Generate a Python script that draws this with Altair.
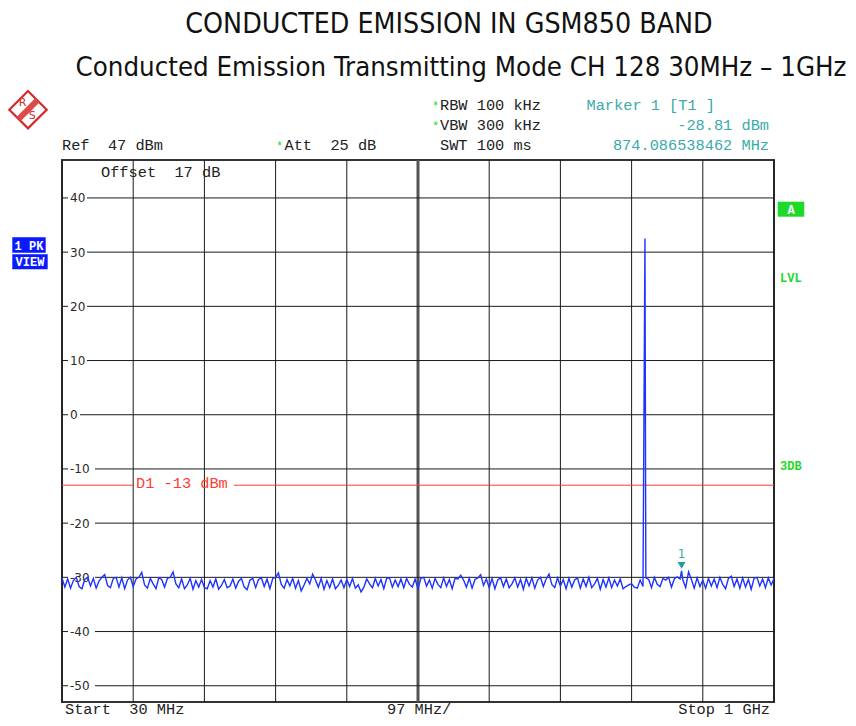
import altair as alt
import pandas as pd

# ---------------- data ----------------
TITLE = "CONDUCTED EMISSION IN GSM850 BAND"
SUBTITLE = "Conducted Emission Transmitting Mode CH 128 30MHz \u2013 1GHz"

start_mhz = 30
stop_mhz = 1000
ref_dbm = 47
bottom_dbm = -53

grid_freqs = [30, 127, 224, 321, 418, 515, 612, 709, 806, 903, 1000]
center_freq = [515]
level_ticks = [40, 30, 20, 10, 0, -10, -20, -30, -40, -50]
level_labels = ["40", "30", "20", "10", "0", "-10", "-20", "-30", "-40", "-50"]

# peak-detected noise floor (dBm), evenly spaced sweep points 30 MHz .. 1 GHz
noise_levels = [
    -30.1, -31.8, -30.3, -32.0, -30.6, -30.0, -31.7, -32.1, -30.4, -30.0,
    -31.6, -30.2, -32.0, -30.7, -30.0, -29.5, -31.5, -31.9, -30.2, -30.0,
    -31.8, -30.1, -32.1, -30.5, -30.0, -31.7, -30.3, -30.0, -29.1, -31.4,
    -32.0, -30.2, -31.2, -32.1, -30.1, -30.4, -31.8, -30.2, -30.0, -29.0,
    -31.2, -31.9, -30.3, -32.1, -31.4, -30.2, -32.2, -30.6, -31.8, -30.4,
    -31.9, -32.1, -30.6, -31.8, -30.3, -32.2, -31.5, -30.4, -31.9, -31.6,
    -30.3, -32.0, -30.7, -30.2, -31.8, -32.3, -30.5, -30.2, -31.9, -30.4,
    -30.1, -31.7, -30.3, -32.1, -30.2, -30.0, -29.2, -31.3, -32.0, -30.4,
    -31.6, -30.2, -32.0, -30.6, -32.5, -31.4, -30.2, -31.2, -29.4, -30.5,
    -31.8, -30.2, -32.2, -30.6, -31.9, -30.3, -32.1, -31.5, -30.5, -31.9,
    -30.4, -31.7, -30.2, -32.0, -31.4, -32.7, -31.8, -30.3, -31.2, -31.9,
    -30.2, -31.6, -30.4, -32.1, -30.2, -30.1, -31.8, -30.5, -31.7, -30.3,
    -31.9, -30.2, -31.3, -31.8, -30.3, -32.1, -30.2, -30.0, -31.6, -30.5,
    -32.0, -30.2, -31.3, -31.9, -30.1, -31.7, -30.4, -32.1, -30.2, -30.3,
    -29.6, -30.5, -31.8, -30.2, -32.0, -30.4, -30.1, -29.5, -31.5, -30.3,
    -31.9, -30.2, -32.1, -30.5, -30.1, -31.7, -30.3, -31.9, -31.2, -30.1,
    -31.8, -30.4, -32.2, -30.2, -31.6, -30.1, -32.0, -30.5, -30.0, -31.7,
    -30.3, -29.4, -31.3, -31.9, -30.1, -31.6, -30.4, -32.1, -30.2, -31.8,
    -30.5, -30.1, -32.0, -30.3, -31.7, -30.0, -31.9, -31.2, -30.2, -32.2,
    -30.4, -31.8, -30.1, -31.9, -30.5, -31.6, -30.3, -32.1, -31.7, -31.4,
    -31.2, -31.8, -32.0, -30.5, -31.7, -30.1, -30.4, -31.9, -30.0, -31.3,
    -31.7, -30.2, -30.5, -30.0, -31.8, -30.3, -29.9, -30.3, -30.5, -31.9,
    -29.0, -30.4, -32.0, -30.1, -31.7, -30.5, -32.0, -30.2, -31.6, -30.3,
    -31.9, -30.0, -31.3, -32.1, -30.2, -29.8, -31.7, -30.3, -32.0, -30.1,
    -31.8, -30.4, -32.2, -30.2, -30.0, -31.6, -30.3, -31.9, -30.1, -31.4,
    -30.2,
]
carrier_freq = [824.2]
carrier_level = [32.5]
marker_freq = [874.086538462]
marker_level = [-28.81]
d1_level = [-13]

NB = "\u00a0"  # keeps the instrument's double spacing in SVG text

# ---------------- tables ----------------
n = len(noise_levels)
sweep_freqs = [start_mhz + i * (stop_mhz - start_mhz) / (n - 1) for i in range(n)]
trace = pd.DataFrame(
    {"f": sweep_freqs + carrier_freq + marker_freq,
     "lvl": noise_levels + carrier_level + marker_level}
).sort_values("f")
grid_v = pd.DataFrame({"gf": grid_freqs})
grid_c = pd.DataFrame({"gf": center_freq})
grid_h = pd.DataFrame({"gl": level_ticks, "label": level_labels})
marker = pd.DataFrame({"f": marker_freq, "lvl": marker_level, "t": ["1"]})
d1 = pd.DataFrame({"lvl": d1_level})

W, H = 712, 542
xs = alt.Scale(domain=[start_mhz, stop_mhz], nice=False, zero=False)
ys = alt.Scale(domain=[bottom_dbm, ref_dbm], nice=False, zero=False)

MONO = "Liberation Mono, Courier New, monospace"
SANS = "DejaVu Sans, sans-serif"
NARROW = "Liberation Sans Narrow, Arial Narrow, DejaVu Sans Condensed, sans-serif"
TEAL = "#3aaaaa"
GREEN = "#1ed82a"
FS = 15.3


def txt(s, x, y, color="#222222", size=FS, font=MONO, align="left",
        weight="normal", baseline="alphabetic"):
    return alt.Chart(pd.DataFrame({"t": [s]})).mark_text(
        align=align, baseline=baseline, font=font, fontSize=size,
        color=color, fontWeight=weight
    ).encode(x=alt.value(x), y=alt.value(y), text="t:N")


def box(x1, x2, y1, y2, color):
    return alt.Chart(pd.DataFrame({"a": [0]})).mark_rect(color=color).encode(
        x=alt.value(x1), x2=alt.value(x2), y=alt.value(y1), y2=alt.value(y2))


vgrid = alt.Chart(grid_v).mark_rule(color="#1a1a1a", strokeWidth=1).encode(
    x=alt.X("gf:Q", scale=xs, axis=None), y=alt.value(0), y2=alt.value(H))
vcenter = alt.Chart(grid_c).mark_rule(color="#555555", strokeWidth=3).encode(
    x=alt.X("gf:Q", scale=xs, axis=None), y=alt.value(0), y2=alt.value(H))
hgrid = alt.Chart(grid_h).mark_rule(color="#1a1a1a", strokeWidth=1).encode(
    y=alt.Y("gl:Q", scale=ys, axis=None), x=alt.value(0), x2=alt.value(W))


def label_gap(expr, x2):
    return alt.Chart(grid_h).transform_filter(expr).mark_rule(
        color="white", strokeWidth=4).encode(
        y=alt.Y("gl:Q", scale=ys, axis=None), x=alt.value(6), x2=alt.value(x2))


gaps = [
    label_gap("length(datum.label) == 1", 18),
    label_gap("length(datum.label) == 2", 25),
    label_gap("length(datum.label) == 3", 33),
]
ylabels = alt.Chart(grid_h).mark_text(
    align="left", baseline="middle", font=SANS, fontSize=12, color="#2a2a2a", dy=0.5
).encode(y=alt.Y("gl:Q", scale=ys, axis=None), x=alt.value(8), text="label:N")

d1_left = alt.Chart(d1).mark_rule(color="#ff3b30", strokeWidth=1).encode(
    y=alt.Y("lvl:Q", scale=ys, axis=None), x=alt.value(0), x2=alt.value(71))
d1_right = alt.Chart(d1).mark_rule(color="#ff3b30", strokeWidth=1).encode(
    y=alt.Y("lvl:Q", scale=ys, axis=None), x=alt.value(172), x2=alt.value(W))
d1_text = alt.Chart(d1).mark_text(
    align="left", baseline="alphabetic", font=MONO, fontSize=FS, color="#ff3b30", dy=3
).encode(y=alt.Y("lvl:Q", scale=ys, axis=None), x=alt.value(74),
         text=alt.value("D1 -13 dBm"))

line = alt.Chart(trace).mark_line(color="#1f33ff", strokeWidth=1.4).encode(
    x=alt.X("f:Q", scale=xs, axis=None), y=alt.Y("lvl:Q", scale=ys, axis=None),
    order="f:Q")

mk_tri = alt.Chart(marker).mark_point(
    shape="triangle-down", filled=True, size=64, color="#1c9c9c", opacity=1, yOffset=-5.5
).encode(x=alt.X("f:Q", scale=xs, axis=None), y=alt.Y("lvl:Q", scale=ys, axis=None))
mk_lab = alt.Chart(marker).mark_text(
    font=SANS, fontSize=12, color=TEAL, baseline="alphabetic", dy=-13
).encode(x=alt.X("f:Q", scale=xs, axis=None), y=alt.Y("lvl:Q", scale=ys, axis=None),
         text="t:N")

# logo
logo = [
    alt.Chart(pd.DataFrame({"a": [0]})).mark_point(
        shape="diamond", size=1399, filled=False, stroke="#d42a2a", strokeWidth=2.2, opacity=1
    ).encode(x=alt.value(-34), y=alt.value(-50.3)),
    alt.Chart(pd.DataFrame({"a": [0]})).mark_rule(color="#dc4a4a", strokeWidth=6).encode(
        x=alt.value(-43.3), y=alt.value(-41), x2=alt.value(-24.7), y2=alt.value(-59.6)),
    txt("R", -39.3, -57, color="#d42a2a", size=11, font=SANS, align="center", baseline="middle"),
    txt("S", -29.7, -44, color="#d42a2a", size=11, font=SANS, align="center", baseline="middle"),
]

texts = [
    txt(TITLE, 387, -127, color="#111111", size=28.3, font=NARROW, align="center"),
    txt(SUBTITLE, 399, -84, color="#111111", size=27.4, font=NARROW, align="center"),
    txt("*", 370, -50.5, color=GREEN, size=12),
    txt("*", 370, -30, color=GREEN, size=12),
    txt("*", 214, -10.5, color=GREEN, size=12),
    txt("RBW 100 kHz", 378, -50.5),
    txt("VBW 300 kHz", 378, -30),
    txt("SWT 100 ms", 378, -10.5),
    txt("Ref" + NB * 2 + "47 dBm", 0, -10.5),
    txt("Att" + NB * 2 + "25 dB", 222.5, -10.5),
    txt("Marker 1 [T1 ]", 524.5, -50.5, color=TEAL),
    txt("-28.81 dBm", 707, -30, color=TEAL, align="right"),
    txt("874.086538462 MHz", 707, -10.5, color=TEAL, align="right"),
    txt("Offset" + NB * 2 + "17 dB", 39, 17),
    txt("Start" + NB * 2 + "30 MHz", 3, 553.5),
    txt("97 MHz/", 325, 553.5),
    txt("Stop 1 GHz", 708, 553.5, align="right"),
    box(715.7, 742.3, 41.7, 56.7, GREEN),
    txt("A", 729, 49.5, color="white", size=12, weight="bold", align="center", baseline="middle"),
    txt("LVL", 718, 122, color=GREEN, size=12, weight="bold"),
    txt("3DB", 718, 310, color=GREEN, size=12, weight="bold"),
    box(-49.7, -16.3, 77.3, 92.7, "#0a1aff"),
    box(-49.7, -14.3, 94.3, 109.3, "#0a1aff"),
    txt("1 PK", -33, 85.5, color="white", size=12, weight="bold", align="center", baseline="middle"),
    txt("VIEW", -32, 102, color="white", size=12, weight="bold", align="center", baseline="middle"),
]

chart = alt.layer(
    vgrid, vcenter, hgrid, *gaps, ylabels, d1_left, d1_right, d1_text,
    line, mk_tri, mk_lab, *logo, *texts
).properties(
    width=W, height=H,
    padding={"left": 54, "top": 152, "right": 74, "bottom": 16},
    autosize=alt.AutoSizeParams(type="none"),
    background="white",
).configure_view(stroke="#333333", strokeWidth=2)

chart.save("out.html", embed_options={"renderer": "svg", "actions": False})
